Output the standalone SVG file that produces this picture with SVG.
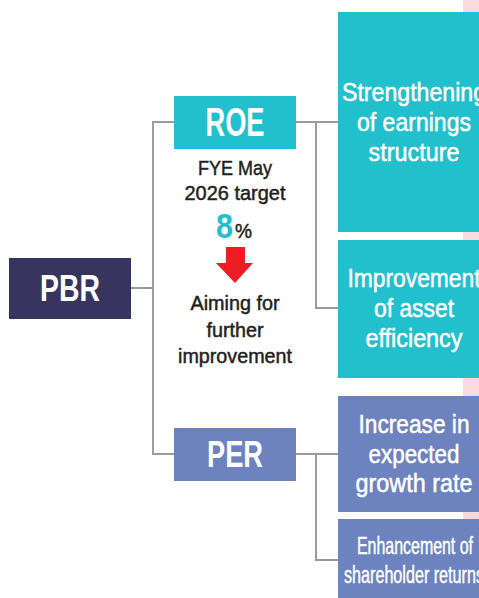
<svg xmlns="http://www.w3.org/2000/svg" width="479" height="598" viewBox="0 0 479 598">
  <style>
    text { font-family: "Liberation Sans Narrow", "Liberation Sans", Arial, sans-serif; text-anchor: middle; }
    .hd { fill: #ffffff; font-weight: bold; }
    .bx { fill: #ffffff; stroke: #ffffff; stroke-width: 0.5; font-size: 26px; }
    .sm { fill: #ffffff; stroke: #ffffff; stroke-width: 0.45; font-size: 23px; }
    .note { fill: #231f20; stroke: #231f20; stroke-width: 0.5; font-size: 21px; }
    .teal { fill: #22bfcd; }
    .violet { fill: #6c83c0; }
    .wire { fill: none; stroke: #9b9b9b; stroke-width: 2; }
  </style>

  <rect width="479" height="598" fill="#ffffff"/>
  <!-- pale band along the right edge -->
  <rect x="463" y="0" width="16" height="598" fill="#f9dbdd"/>

  <g id="connectors">
    <path class="wire" d="M131 288 H153"/>
    <path class="wire" d="M174 122 H153 V454 H174"/>
    <path class="wire" d="M296 122 H338"/>
    <path class="wire" d="M316 122 V308 H338"/>
    <path class="wire" d="M296 454 H338"/>
    <path class="wire" d="M316 454 V560 H338"/>
  </g>

  <g id="pbr">
    <rect x="9" y="258" width="122" height="61" fill="#373560"/>
    <text class="hd" x="70" y="301" font-size="37" textLength="60" lengthAdjust="spacingAndGlyphs">PBR</text>
  </g>

  <g id="roe">
    <rect class="teal" x="174" y="96" width="122" height="53"/>
    <text class="hd" x="235" y="136" font-size="40" textLength="59" lengthAdjust="spacingAndGlyphs">ROE</text>
  </g>

  <g id="roe-target">
    <text class="note" x="235" y="175" textLength="74" lengthAdjust="spacingAndGlyphs">FYE May</text>
    <text class="note" x="235" y="200" textLength="101" lengthAdjust="spacingAndGlyphs">2026 target</text>
    <text x="224.5" y="238" font-size="35" font-weight="bold" fill="#22bfcd" textLength="17" lengthAdjust="spacingAndGlyphs">8</text>
    <text class="note" x="243.5" y="238" font-size="18" textLength="17" lengthAdjust="spacingAndGlyphs">%</text>
    <polygon points="226,247 245,247 245,263 253,263 235,283 216,263 226,263" fill="#ee1c25"/>
    <text class="note" x="235" y="310" textLength="89" lengthAdjust="spacingAndGlyphs">Aiming for</text>
    <text class="note" x="235" y="337" textLength="57" lengthAdjust="spacingAndGlyphs">further</text>
    <text class="note" x="235" y="363" textLength="114" lengthAdjust="spacingAndGlyphs">improvement</text>
  </g>

  <g id="per">
    <rect class="violet" x="174" y="428" width="122" height="53"/>
    <text class="hd" x="235" y="467" font-size="36" textLength="56" lengthAdjust="spacingAndGlyphs">PER</text>
  </g>

  <g id="earnings">
    <rect class="teal" x="338" y="12" width="152" height="220"/>
    <text class="bx" x="414" y="101" textLength="144" lengthAdjust="spacingAndGlyphs">Strengthening</text>
    <text class="bx" x="414" y="131" textLength="114" lengthAdjust="spacingAndGlyphs">of earnings</text>
    <text class="bx" x="414" y="161" textLength="91" lengthAdjust="spacingAndGlyphs">structure</text>
  </g>

  <g id="assets">
    <rect class="teal" x="338" y="240" width="152" height="138"/>
    <text class="bx" x="414" y="287" textLength="133" lengthAdjust="spacingAndGlyphs">Improvement</text>
    <text class="bx" x="414" y="317" textLength="80" lengthAdjust="spacingAndGlyphs">of asset</text>
    <text class="bx" x="414" y="347" textLength="97" lengthAdjust="spacingAndGlyphs">efficiency</text>
  </g>

  <g id="growth">
    <rect class="violet" x="338" y="396" width="152" height="116"/>
    <text class="bx" x="414" y="433" textLength="111" lengthAdjust="spacingAndGlyphs">Increase in</text>
    <text class="bx" x="414" y="463" textLength="91" lengthAdjust="spacingAndGlyphs">expected</text>
    <text class="bx" x="414" y="492" textLength="117" lengthAdjust="spacingAndGlyphs">growth rate</text>
  </g>

  <g id="returns">
    <rect class="violet" x="338" y="519" width="152" height="79"/>
    <text class="sm" x="415" y="554" textLength="116" lengthAdjust="spacingAndGlyphs">Enhancement of</text>
    <text class="sm" x="414" y="583" textLength="140" lengthAdjust="spacingAndGlyphs">shareholder returns</text>
  </g>
</svg>
